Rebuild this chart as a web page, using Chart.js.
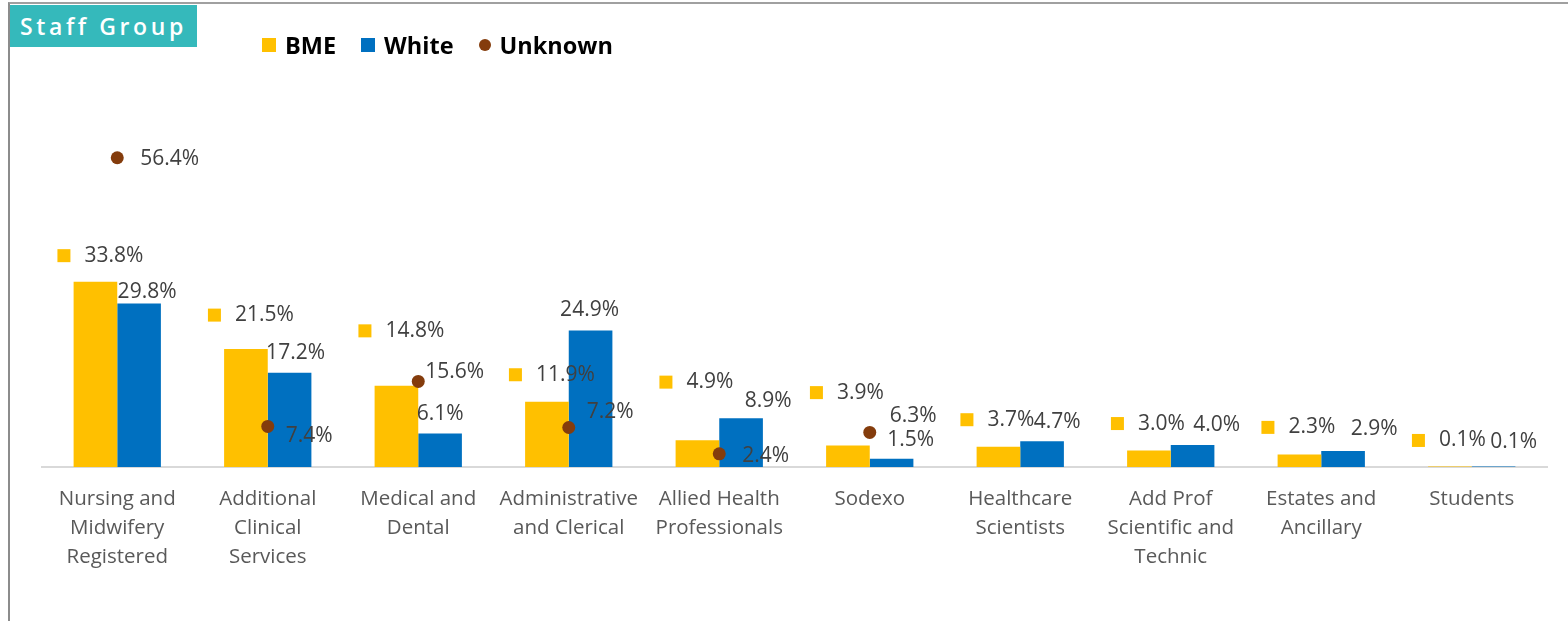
<!DOCTYPE html>
<html>
<head>
<meta charset="utf-8">
<script src="https://cdn.jsdelivr.net/npm/chart.js@4.4.1/dist/chart.umd.min.js"></script>
<style>
  html, body { margin: 0; padding: 0; background: #fff; }
  #wrap { position: relative; width: 1568px; height: 621px; overflow: hidden; }
  #wrap canvas { position: absolute; left: 0; top: 0; }
  #frame { position: absolute; left: 8px; top: 2px; right: -10px; bottom: -10px;
           border-left: 2px solid #8c8c8c; border-top: 2px solid #a0a0a0; pointer-events: none; }
  #title { position: absolute; left: 10px; top: 5px; width: 187px; height: 42px; box-sizing: border-box;
           background: #35B9BB; color: #fff; font: 600 23px 'Open Sans'; letter-spacing: 3.6px;
           line-height: 42px; padding-left: 10px; white-space: nowrap; }
  #legend { position: absolute; left: 262px; top: 29px; display: flex; align-items: center;
            font: 700 23.5px 'Open Sans'; color: #000; }
  #legend .item { display: flex; align-items: center; margin-right: 25px; }
  #legend .key { width: 14px; height: 14px; margin-right: 9px; }
  #legend .dot { width: 12px; height: 12px; border-radius: 50%; margin-right: 9px; }
</style>
</head>
<body>
<div id="wrap">
  <canvas id="staffChart" width="1568" height="621"></canvas>
  <div id="frame"></div>
  <div id="title">Staff Group</div>
  <div id="legend"></div>
</div>
<script>
// Data
const categories = [
  ['Nursing and', 'Midwifery', 'Registered'],
  ['Additional', 'Clinical', 'Services'],
  ['Medical and', 'Dental'],
  ['Administrative', 'and Clerical'],
  ['Allied Health', 'Professionals'],
  ['Sodexo'],
  ['Healthcare', 'Scientists'],
  ['Add Prof', 'Scientific and', 'Technic'],
  ['Estates and', 'Ancillary'],
  ['Students']
];
const bmeValues = [33.8, 21.5, 14.8, 11.9, 4.9, 3.9, 3.7, 3.0, 2.3, 0.1];
const whiteValues = [29.8, 17.2, 6.1, 24.9, 8.9, 1.5, 4.7, 4.0, 2.9, 0.1];
const unknownValues = [56.4, 7.4, 15.6, 7.2, 2.4, 6.3, null, null, null, null];

const bmeColor = '#FFC000';
const whiteColor = '#0070C0';
const unknownColor = '#843C0C';
const labelColor = '#404040';

// hand-placed label nudges (pixels) as in the original workbook
const bmeLift = [26, 34, 55, 27, 58, 53, 27, 27, 27, 26];
const whiteNudge = [[8, 12], [6, 20], [0, 20], [-1, 20], [27, 17], [19, 19], [15, 19], [24, 20], [31, 22], [20, 24]];
const unknownNudge = [[23, 1], [18, 10], [7, -9], [18, -16], [23, 2], [20, -16], [0, 0], [0, 0], [0, 0], [0, 0]];

const pct = v => v.toFixed(1) + '%';

const valueLabels = {
  id: 'valueLabels',
  afterDatasetsDraw(chart) {
    const ctx = chart.ctx;
    ctx.save();
    ctx.font = '21px "Open Sans"';
    ctx.textBaseline = 'middle';

    // BME: legend key + value above the bar
    chart.getDatasetMeta(0).data.forEach((bar, i) => {
      const cy = bar.y - bmeLift[i];
      ctx.fillStyle = bmeColor;
      ctx.fillRect(bar.x - 38, cy - 6.5, 13, 13);
      ctx.fillStyle = labelColor;
      ctx.textAlign = 'left';
      ctx.fillText(pct(bmeValues[i]), bar.x - 11, cy);
    });

    // White
    chart.getDatasetMeta(1).data.forEach((bar, i) => {
      ctx.fillStyle = labelColor;
      ctx.textAlign = 'center';
      ctx.fillText(pct(whiteValues[i]), bar.x + whiteNudge[i][0], bar.y - whiteNudge[i][1]);
    });

    // Unknown
    chart.getDatasetMeta(2).data.forEach((pt, i) => {
      if (unknownValues[i] == null) return;
      ctx.fillStyle = labelColor;
      ctx.textAlign = 'left';
      ctx.fillText(pct(unknownValues[i]), pt.x + unknownNudge[i][0], pt.y + unknownNudge[i][1]);
    });
    ctx.restore();
  }
};

const config = {
  type: 'bar',
  data: {
    labels: categories,
    datasets: [
      { label: 'BME', data: bmeValues, backgroundColor: bmeColor, order: 2,
        categoryPercentage: 0.58, barPercentage: 1.0 },
      { label: 'White', data: whiteValues, backgroundColor: whiteColor, order: 2,
        categoryPercentage: 0.58, barPercentage: 1.0 },
      { label: 'Unknown', type: 'line', data: unknownValues, showLine: false, order: 0,
        pointRadius: 6.5, pointStyle: 'circle', backgroundColor: unknownColor,
        borderColor: unknownColor, borderWidth: 0, clip: false }
    ]
  },
  options: {
    responsive: false,
    animation: false,
    layout: { padding: { left: 42, right: 21, top: 138, bottom: 0 } },
    plugins: {
      legend: { display: false },
      tooltip: { enabled: false }
    },
    scales: {
      x: {
        grid: { display: false, drawTicks: false },
        border: { display: true, color: '#d9d9d9', width: 2 },
        ticks: {
          color: '#595959',
          font: { family: 'Open Sans', size: 20.5, lineHeight: '29px' },
          padding: 18,
          maxRotation: 0,
          autoSkip: false
        },
        afterFit: scale => { scale.height = 154; }
      },
      y: { display: false, min: 0, max: 60 }
    }
  },
  plugins: [valueLabels]
};

const ctx = document.getElementById('staffChart').getContext('2d');
const chart = new Chart(ctx, config);

// HTML legend built from the datasets
const legendEl = document.getElementById('legend');
chart.data.datasets.forEach(ds => {
  const item = document.createElement('div');
  item.className = 'item';
  const key = document.createElement('span');
  key.className = ds.type === 'line' ? 'dot' : 'key';
  key.style.background = ds.backgroundColor;
  item.appendChild(key);
  item.appendChild(document.createTextNode(ds.label));
  legendEl.appendChild(item);
});
</script>
</body>
</html>
